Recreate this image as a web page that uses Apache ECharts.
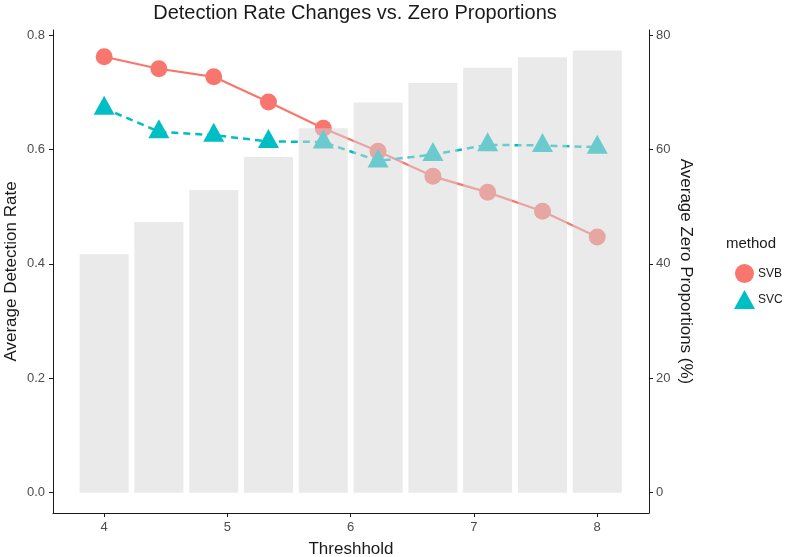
<!DOCTYPE html>
<html>
<head>
<meta charset="utf-8">
<script src="https://cdn.jsdelivr.net/npm/echarts@6/dist/echarts.min.js"></script>
<style>
html,body{margin:0;padding:0;background:#fff;}
#chart{width:786px;height:557px;}
</style>
</head>
<body>
<div id="chart"></div>
<script>
// Data
const thresholds = [4, 4.444, 4.889, 5.333, 5.778, 6.222, 6.667, 7.111, 7.556, 8];
const svbRate = [0.762, 0.741, 0.727, 0.683, 0.637, 0.597, 0.553, 0.525, 0.492, 0.447];
const svcRate = [0.672, 0.631, 0.625, 0.614, 0.613, 0.580, 0.591, 0.608, 0.607, 0.604];
const zeroProp = [41.7, 47.3, 52.9, 58.7, 63.7, 68.2, 71.6, 74.3, 76.1, 77.3];
const xTicks = [4, 5, 6, 7, 8];
const leftTicks = [0, 0.2, 0.4, 0.6, 0.8];
const rightTicks = [0, 20, 40, 60, 80];

const pair = (xs, ys) => xs.map((x, i) => [x, ys[i]]);

const font = 'Liberation Sans, Arial, sans-serif';
const axisLineStyle = { color: '#1a1a1a', width: 1 };
const labelStyle = { color: '#4d4d4d', fontSize: 13, fontFamily: font };
const nameStyle = { color: '#1a1a1a', fontSize: 17, fontFamily: font };

const chart = echarts.init(document.getElementById('chart'), null, { renderer: 'canvas' });
chart.setOption({
  animation: false,
  backgroundColor: '#ffffff',
  title: [
    {
      text: 'Detection Rate Changes vs. Zero Proportions',
      left: 350, top: -2, textAlign: 'center',
      textStyle: { fontSize: 20, fontWeight: 'normal', color: '#1a1a1a', fontFamily: font }
    },
    {
      text: 'method',
      left: 721, top: 231,
      textStyle: { fontSize: 15, fontWeight: 'normal', color: '#1a1a1a', fontFamily: font }
    }
  ],
  legend: {
    orient: 'vertical',
    left: 729, top: 259,
    itemWidth: 21, itemHeight: 19, itemGap: 7,
    textStyle: { fontSize: 12, color: '#1a1a1a', fontFamily: font, padding: [0, 0, 0, -2] },
    data: [
      { name: 'SVB', icon: 'circle' },
      { name: 'SVC', icon: 'triangle' }
    ]
  },
  grid: { left: 53, right: 137, top: 30, bottom: 44, containLabel: false, outerBoundsMode: 'none' },
  xAxis: {
    type: 'value',
    min: 3.585, max: 8.42,
    name: 'Threshhold', nameLocation: 'middle', nameGap: 28,
    nameTextStyle: nameStyle,
    axisLine: { show: true, onZero: false, lineStyle: axisLineStyle },
    axisTick: { show: true, length: 4, lineStyle: axisLineStyle, customValues: xTicks },
    axisLabel: { ...labelStyle, margin: 8, customValues: xTicks },
    splitLine: { show: false }
  },
  yAxis: [
    {
      type: 'value',
      min: -0.0355, max: 0.8088,
      name: 'Average Detection Rate', nameLocation: 'middle', nameGap: 33, nameRotate: 90,
      nameMoveOverlap: false,
      nameTextStyle: nameStyle,
      axisLine: { show: true, onZero: false, lineStyle: axisLineStyle },
      axisTick: { show: true, length: 4, lineStyle: axisLineStyle, customValues: leftTicks },
      axisLabel: { ...labelStyle, margin: 8, customValues: leftTicks, formatter: v => v.toFixed(1) },
      splitLine: { show: false }
    },
    {
      type: 'value',
      position: 'right',
      min: -3.55, max: 80.88,
      name: 'Average Zero Proportions (%)', nameLocation: 'middle', nameGap: 28, nameRotate: -90,
      nameMoveOverlap: false,
      nameTextStyle: nameStyle,
      axisLine: { show: true, onZero: false, lineStyle: axisLineStyle },
      axisTick: { show: true, length: 4, lineStyle: axisLineStyle, customValues: rightTicks },
      axisLabel: { ...labelStyle, margin: 7, customValues: rightTicks },
      splitLine: { show: false }
    }
  ],
  series: [
    {
      name: 'SVB',
      type: 'line',
      yAxisIndex: 0,
      z: 2,
      data: pair(thresholds, svbRate),
      symbol: 'circle', symbolSize: 17,
      lineStyle: { color: '#F8766D', width: 2.2 },
      itemStyle: { color: '#F8766D' }
    },
    {
      name: 'SVC',
      type: 'line',
      yAxisIndex: 0,
      z: 2,
      data: pair(thresholds, svcRate),
      symbol: 'triangle', symbolSize: [21, 19], symbolOffset: [0, -3],
      lineStyle: { color: '#00BFC4', width: 2.5, type: [7, 5] },
      itemStyle: { color: '#00BFC4' }
    },
    {
      name: 'Zero Proportion',
      type: 'bar',
      yAxisIndex: 1,
      z: 3,
      barWidth: 49,
      data: pair(thresholds, zeroProp),
      itemStyle: { color: 'rgba(214,214,214,0.5)' }
    }
  ]
});
</script>
</body>
</html>
